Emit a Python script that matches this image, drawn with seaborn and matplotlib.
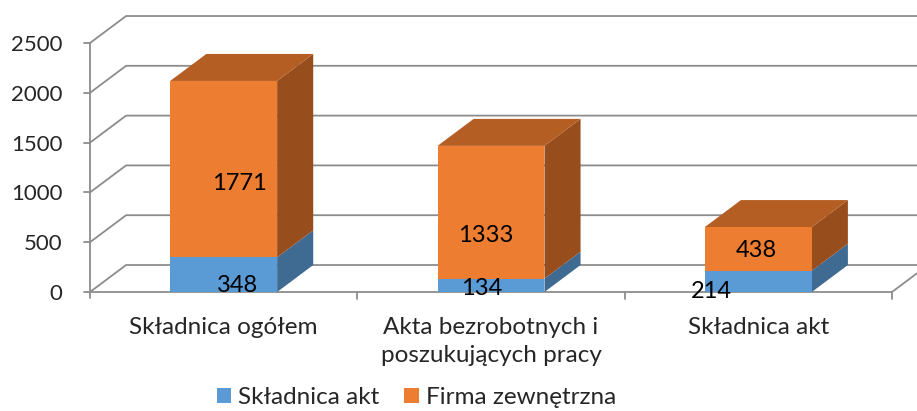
#!/usr/bin/env python3

import matplotlib

matplotlib.use("Agg")
import matplotlib.pyplot as plt
import seaborn as sns
from matplotlib.patches import Patch, Polygon

categories = ["Składnica ogółem", "Akta bezrobotnych i\nposzukujących pracy", "Składnica akt"]
series_names = ["Składnica akt", "Firma zewnętrzna"]
skladnica = [348, 134, 214]
firma = [1771, 1333, 438]
y_ticks = [0, 500, 1000, 1500, 2000, 2500]

# label placement (x offset from bar centre, y in data units)
label_dx_blue = [0.053, -0.034, -0.175]
label_y_blue = [70, 40, 10]
label_dx_orange = [0.057, -0.02, -0.006]
label_y_orange = [1094, 572, 412]

BLUE = "#5B9BD5"
BLUE_SIDE = "#3F6A92"
ORANGE = "#ED7D31"
ORANGE_TOP = "#B45E23"
ORANGE_SIDE = "#984D1D"
GRID = "#8C8C8C"

# fake 3D depth (data units)
DX = 0.135
DY = 271
BAR_W = 0.4

sns.set_theme(style="white")
plt.rcParams["font.family"] = ["Lato", "DejaVu Sans"]

fig = plt.figure(figsize=(9.17, 4.11), dpi=100)
ax = fig.add_axes([90 / 917, 119 / 411, 802 / 917, 249 / 411])

totals = [a + b for a, b in zip(skladnica, firma)]

# back wall, left wall and floor
x0, x1 = -0.5, 2.5
for v in y_ticks:
    ax.plot([x0, x0 + DX, x1 + 2 * DX], [v, v + DY, v + DY], color=GRID, lw=1.3,
            clip_on=False, zorder=1)
ax.plot([x1, x1 + DX], [0, DY], color=GRID, lw=1.3, clip_on=False, zorder=1)
ax.plot([x0, x0], [-60, 2500], color=GRID, lw=1.3, clip_on=False, zorder=1)
ax.plot([x0, x1], [0, 0], color=GRID, lw=1.3, clip_on=False, zorder=1)
for xb in [0.5, 1.5, 2.5]:
    ax.plot([xb, xb], [0, -70], color=GRID, lw=1.3, clip_on=False, zorder=1)
for v in y_ticks:
    ax.plot([x0 - 0.022, x0], [v, v], color=GRID, lw=1.3, clip_on=False, zorder=1)

# front faces through seaborn
sns.barplot(x=categories, y=totals, color=ORANGE, saturation=1, width=BAR_W,
            ax=ax, zorder=3, linewidth=0)
sns.barplot(x=categories, y=skladnica, color=BLUE, saturation=1, width=BAR_W,
            ax=ax, zorder=3, linewidth=0)

# side and top faces
for i in range(len(categories)):
    xr = i + BAR_W / 2
    xl = i - BAR_W / 2
    segs = [(0, skladnica[i], BLUE_SIDE), (skladnica[i], totals[i], ORANGE_SIDE)]
    for b, t, c in segs:
        ax.add_patch(Polygon([(xr, b), (xr + DX, b + DY), (xr + DX, t + DY), (xr, t)],
                             closed=True, facecolor=c, edgecolor="none",
                             clip_on=False, zorder=2))
    t = totals[i]
    ax.add_patch(Polygon([(xl, t), (xl + DX, t + DY), (xr + DX, t + DY), (xr, t)],
                         closed=True, facecolor=ORANGE_TOP, edgecolor="none",
                         clip_on=False, zorder=2))

# data labels
for i in range(len(categories)):
    ax.text(i + label_dx_blue[i], label_y_blue[i], str(skladnica[i]), ha="center",
            va="center", fontsize=17, color="black", zorder=5, clip_on=False)
    ax.text(i + label_dx_orange[i], label_y_orange[i], str(firma[i]), ha="center",
            va="center", fontsize=17, color="black", zorder=5)

ax.set_xlim(x0, x1)
ax.set_ylim(0, 2500)
ax.set_yticks(y_ticks)
ax.set_yticklabels([str(v) for v in y_ticks], fontsize=16)
ax.tick_params(axis="y", length=0, pad=20)
ax.set_xticks(range(len(categories)))
ax.set_xticklabels(categories, fontsize=17.5, linespacing=1.4)
ax.tick_params(axis="x", length=0, pad=18)
ax.set_xlabel("")
ax.set_ylabel("")
for s in ax.spines.values():
    s.set_visible(False)
ax.set_facecolor("none")

handles = [Patch(facecolor=BLUE, edgecolor="none"), Patch(facecolor=ORANGE, edgecolor="none")]
fig.legend(handles, series_names, loc="center", bbox_to_anchor=(0.454, 0.033), ncol=2,
           frameon=False, fontsize=17.5, handlelength=0.6, handleheight=0.6,
           handletextpad=0.3, columnspacing=1.0)

fig.savefig("out.png", dpi=100)
